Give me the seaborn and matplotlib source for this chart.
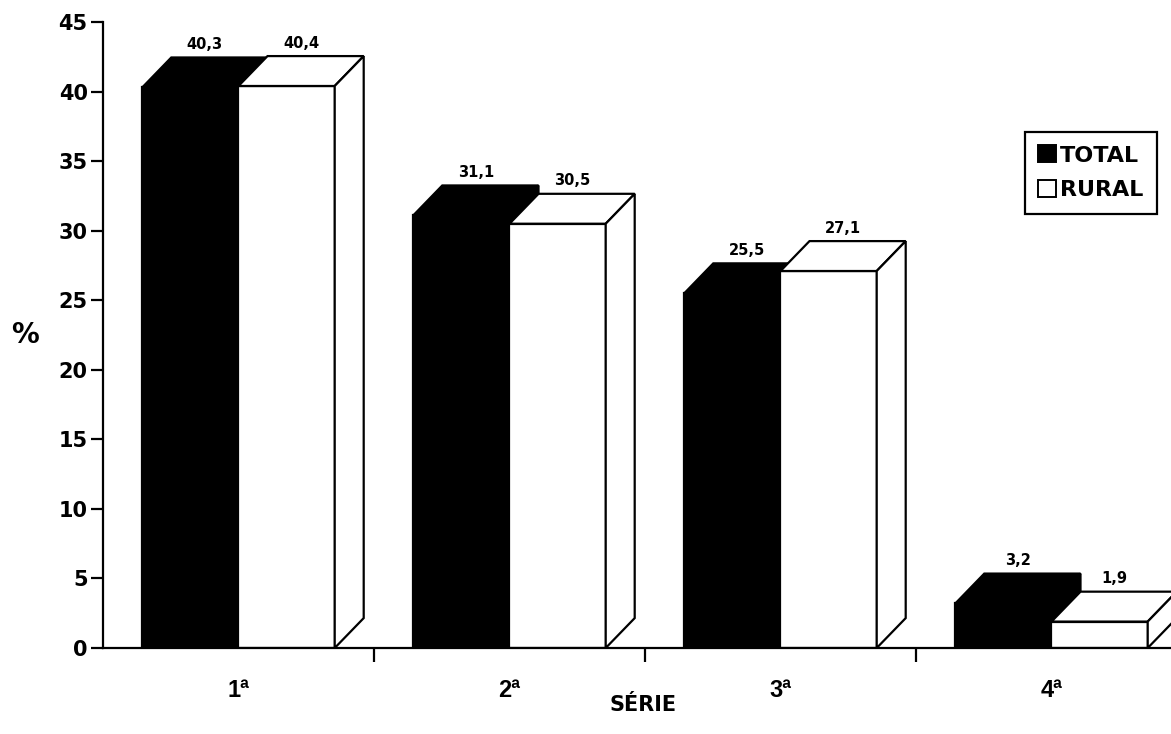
import matplotlib
matplotlib.use("Agg")
import matplotlib.pyplot as plt
import pandas as pd
import seaborn as sns
from matplotlib.patches import Polygon, Patch

# data
series = ["1ª", "2ª", "3ª", "4ª"]
total = [40.3, 31.1, 25.5, 3.2]
rural = [40.4, 30.5, 27.1, 1.9]
groups = ["TOTAL", "RURAL"]
colors = {"TOTAL": "black", "RURAL": "white"}

df = pd.DataFrame({
    "serie": series * 2,
    "grupo": ["TOTAL"] * len(series) + ["RURAL"] * len(series),
    "pct": total + rural,
})

sns.set_style("white", {"xtick.bottom": True, "ytick.left": True,
                        "text.color": "black", "axes.labelcolor": "black",
                        "xtick.color": "black", "ytick.color": "black"})
plt.rcParams["font.family"] = ["DejaVu Sans"]
plt.rcParams["font.weight"] = "bold"

W, H = 1171, 734
fig = plt.figure(figsize=(W / 100, H / 100), dpi=100)
ax = fig.add_axes([103 / W, (H - 648) / H, 1084 / W, 626 / H])

sns.barplot(data=df, x="serie", y="pct", hue="grupo", hue_order=groups,
            palette=colors, edgecolor="black", linewidth=1.6, width=0.71,
            saturation=1, legend=False, ax=ax)

ax.set_xlim(-0.5, 3.5)
ax.set_ylim(0, 45)

# fake 3d depth (in data units)
dx, dy = 0.107, 2.15
values = total + rural
for i, (p, val) in enumerate(zip(ax.patches, values)):
    z = 2 if i < len(series) else 3
    p.set_zorder(z)
    p.set_joinstyle("miter")
    x0, w, h = p.get_x(), p.get_width(), p.get_height()
    fc = p.get_facecolor()
    top = Polygon([(x0, h), (x0 + w, h), (x0 + w + dx, h + dy), (x0 + dx, h + dy)],
                  closed=True, facecolor=fc, edgecolor="black", lw=1.6,
                  zorder=z, joinstyle="miter")
    side = Polygon([(x0 + w, 0), (x0 + w + dx, dy), (x0 + w + dx, h + dy), (x0 + w, h)],
                   closed=True, facecolor=fc, edgecolor="black", lw=1.6,
                   zorder=z, joinstyle="miter")
    ax.add_patch(top)
    ax.add_patch(side)
    ax.text(x0 + w / 2 + dx / 2, h + dy + 0.4, f"{val:.1f}".replace(".", ","),
            ha="center", va="bottom", fontsize=10.5, fontweight="bold",
            color="black", zorder=5)

# axes styling
sns.despine(ax=ax)
for s in ["left", "bottom"]:
    ax.spines[s].set_linewidth(1.6)
    ax.spines[s].set_color("black")
    ax.spines[s].set_zorder(6)

ax.set_yticks(range(0, 46, 5))
ax.tick_params(axis="y", left=True, length=9, width=1.6, direction="out",
               labelsize=15, pad=2, colors="black")
ax.set_xticks(range(len(series)))
ax.set_xticklabels(series, fontsize=17, fontweight="bold",
                   family=["Liberation Sans", "DejaVu Sans"])
ax.set_xticks([0.5, 1.5, 2.5], minor=True)
ax.tick_params(axis="x", which="major", bottom=False, length=0, pad=22, colors="black")
ax.tick_params(axis="x", which="minor", bottom=True, length=10, width=1.6,
               direction="out", colors="black")
for t in ax.get_yticklabels():
    t.set_fontweight("bold")

ax.set_xlabel("SÉRIE", fontsize=15, fontweight="bold", color="black")
ax.xaxis.set_label_coords(0.498, -0.075)
ax.set_ylabel("%", fontsize=20, fontweight="bold", rotation=0, va="center",
              ha="center", color="black")
ax.yaxis.set_label_coords(-0.072, 0.5)

handles = [Patch(facecolor=colors[g], edgecolor="black", lw=1.4) for g in groups]
leg = ax.legend(handles, groups, loc="upper right",
                bbox_to_anchor=(1157 / W, 1 - 132 / H), bbox_transform=fig.transFigure,
                borderaxespad=0, fancybox=False, framealpha=1, edgecolor="black",
                handlelength=0.8, handleheight=0.8, handletextpad=0.2,
                borderpad=0.6, labelspacing=0.65,
                prop={"size": 16, "weight": "bold"})
leg.get_frame().set_linewidth(1.6)

fig.savefig("out.png", dpi=100, facecolor="white")
